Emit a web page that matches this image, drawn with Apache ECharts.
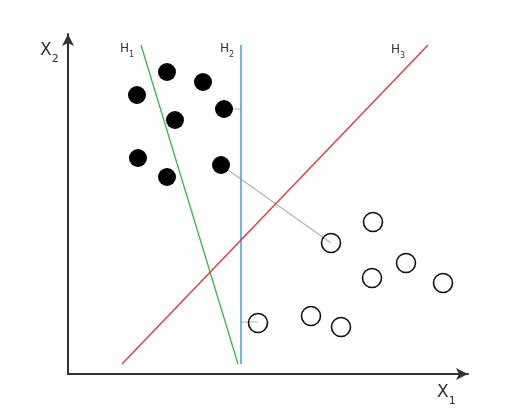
<!DOCTYPE html>
<html>
<head>
<meta charset="utf-8">
<script src="https://cdn.jsdelivr.net/npm/echarts@6/dist/echarts.min.js"></script>
<style>html,body{margin:0;padding:0;background:#fff;}#c{width:518px;height:413px;}</style>
</head>
<body>
<div id="c"></div>
<script>
// Class A (filled) points [x1, x2]
const filledPoints = [[69,279],[99,302],[135,292],[156,265],[107,254],[70,216],[99,197],[153,209]];
// Class B (open) points
const openPoints = [[263,131],[305,152],[338,111],[304,96],[375,91],[190,51],[243,58],[273,47]];
// Hyperplanes (end points)
const h1 = [[73,329],[170,10]];
const h2 = [[173,329],[173,10]];
const h3 = [[54,10],[360,329]];
// Distance segments
const dist1 = [[153,209],[263,131]];
const dist2 = [[165,265],[173,265]];
const dist3 = [[173,52],[190,52]];

const chart = echarts.init(document.getElementById('c'));
const lineSeries = (data, color, w) => ({
  type: 'line', data: data, showSymbol: false, symbol: 'none',
  lineStyle: {color: color, width: w}, silent: true, z: 2
});
const font = 'DejaVu Sans';
function subText(main, sub, x, y, ms, ss) {
  return {
    type: 'text', left: x, top: y, silent: true,
    style: {
      text: '{m|' + main + '}{s|' + sub + '}',
      rich: {
        m: {fontSize: ms, fontFamily: font, fill: '#333', verticalAlign: 'bottom'},
        s: {fontSize: ss, fontFamily: font, fill: '#333', verticalAlign: 'bottom', padding: [0,0,-ss*0.5,0]}
      }
    }
  };
}
chart.setOption({
  animation: false,
  backgroundColor: '#fff',
  grid: {left: 68, right: 50, top: 34, bottom: 39},
  xAxis: {type: 'value', min: 0, max: 400, splitLine: {show: false},
    axisLabel: {show: false}, axisTick: {show: false},
    axisLine: {lineStyle: {color: '#333', width: 2}, symbol: ['none','arrow'], symbolSize: [9,12]}},
  yAxis: {type: 'value', min: 0, max: 340, splitLine: {show: false},
    axisLabel: {show: false}, axisTick: {show: false},
    axisLine: {onZero: false, lineStyle: {color: '#333', width: 2}, symbol: ['none','arrow'], symbolSize: [9,12]}},
  series: [
    lineSeries(dist1, '#b3b3b3', 1.2),
    lineSeries(dist2, '#b3b3b3', 1.2),
    lineSeries(dist3, '#b3b3b3', 1.2),
    lineSeries(h1, '#3db54a', 1.3),
    lineSeries(h2, '#4aa5e0', 1.6),
    lineSeries(h3, '#e03a42', 1.4),
    {type: 'scatter', data: filledPoints, symbol: 'circle', symbolSize: 18,
      itemStyle: {color: '#000', opacity: 1}, z: 3},
    {type: 'scatter', data: openPoints, symbol: 'circle', symbolSize: 19,
      itemStyle: {color: 'rgba(255,255,255,0)', borderColor: '#111', borderWidth: 1.6, opacity: 1}, z: 3}
  ],
  graphic: [
    subText('X', '2', 40, 42, 17, 11),
    subText('X', '1', 437, 384, 17, 11),
    subText('H', '1', 120, 43, 12, 8),
    subText('H', '2', 220, 43, 12, 8),
    subText('H', '3', 391, 44, 12, 8)
  ]
});
</script>
</body>
</html>
